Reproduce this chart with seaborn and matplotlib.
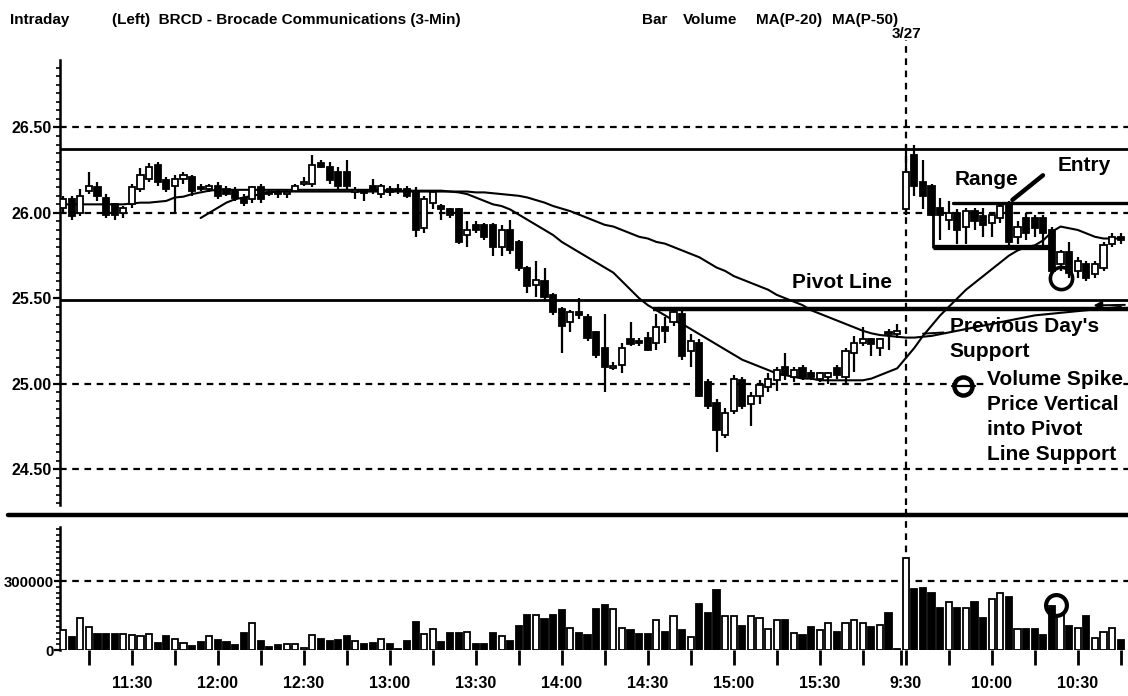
import numpy as np
import pandas as pd
import seaborn as sns
import matplotlib
matplotlib.use("Agg")
import matplotlib.pyplot as plt
from matplotlib.lines import Line2D

# ---------------- data ----------------
# 3-minute bars: day 1 from 11:06 to 15:57, day 2 from 9:30 to 10:39
opens = [26.03, 26.08, 26.00, 26.13, 26.15, 26.09, 26.05, 26.00, 26.05, 26.14,
         26.20, 26.28, 26.19, 26.16, 26.20, 26.21, 26.15, 26.14, 26.16, 26.14,
         26.13, 26.09, 26.08, 26.15, 26.12, 26.12, 26.11, 26.13, 26.17, 26.17,
         26.29, 26.27, 26.24, 26.24, 26.12, 26.12, 26.16, 26.11, 26.14, 26.14,
         26.14, 26.13, 25.91, 26.06, 26.04, 26.02, 26.02, 25.87, 25.93, 25.93,
         25.93, 25.80, 25.90, 25.83, 25.68, 25.58, 25.60, 25.52, 25.44, 25.36,
         25.42, 25.39, 25.30, 25.21, 25.09, 25.11, 25.26, 25.25, 25.27, 25.24,
         25.33, 25.36, 25.41, 25.19, 25.24, 25.01, 24.89, 24.70, 24.84, 25.02,
         24.88, 24.93, 24.98, 25.02, 25.10, 25.04, 25.09, 25.06, 25.03, 25.04,
         25.09, 25.04, 25.18, 25.24, 25.26, 25.21, 25.30, 25.29,
         26.02, 26.34, 26.18, 26.16, 26.03, 25.96, 26.00, 25.92, 26.01, 25.98,
         25.94, 25.97, 26.05, 25.86, 25.97, 25.97, 25.97, 25.90, 25.70, 25.77,
         25.66, 25.70, 25.64, 25.68, 25.82, 25.86]
highs = [26.10, 26.10, 26.14, 26.24, 26.18, 26.11, 26.06, 26.04, 26.17, 26.26,
         26.29, 26.30, 26.21, 26.22, 26.24, 26.22, 26.17, 26.17, 26.18, 26.16,
         26.15, 26.11, 26.16, 26.17, 26.14, 26.14, 26.14, 26.17, 26.21, 26.34,
         26.31, 26.30, 26.27, 26.31, 26.15, 26.14, 26.20, 26.17, 26.16, 26.17,
         26.16, 26.15, 26.10, 26.13, 26.05, 26.03, 26.03, 25.95, 25.95, 25.94,
         25.94, 25.93, 25.96, 25.84, 25.69, 25.72, 25.68, 25.53, 25.45, 25.43,
         25.50, 25.41, 25.31, 25.41, 25.13, 25.24, 25.36, 25.27, 25.30, 25.41,
         25.39, 25.44, 25.43, 25.29, 25.26, 25.03, 24.91, 24.86, 25.05, 25.04,
         24.95, 25.02, 25.06, 25.10, 25.18, 25.10, 25.11, 25.08, 25.07, 25.07,
         25.11, 25.21, 25.28, 25.33, 25.27, 25.27, 25.32, 25.35,
         26.40, 26.40, 26.31, 26.17, 26.09, 26.07, 26.02, 26.03, 26.03, 26.03,
         26.00, 26.06, 26.07, 25.95, 26.00, 25.99, 25.99, 25.92, 25.78, 25.83,
         25.74, 25.72, 25.72, 25.83, 25.88, 25.88]
lows = [26.00, 25.96, 25.98, 26.11, 26.07, 25.97, 25.96, 25.97, 26.03, 26.12,
        26.18, 26.16, 26.12, 26.00, 26.17, 26.10, 26.13, 26.12, 26.08, 26.10,
        26.07, 26.04, 26.06, 26.06, 26.10, 26.09, 26.09, 26.12, 26.16, 26.15,
        26.26, 26.17, 26.14, 26.14, 26.08, 26.07, 26.11, 26.09, 26.10, 26.11,
        26.09, 25.86, 25.88, 26.02, 25.96, 25.97, 25.82, 25.80, 25.88, 25.84,
        25.75, 25.75, 25.76, 25.66, 25.53, 25.51, 25.49, 25.40, 25.18, 25.30,
        25.38, 25.25, 25.15, 24.95, 25.08, 25.06, 25.22, 25.22, 25.19, 25.20,
        25.24, 25.34, 25.14, 25.10, 24.92, 24.85, 24.60, 24.68, 24.82, 24.85,
        24.75, 24.88, 24.95, 24.96, 25.02, 25.01, 25.02, 25.02, 25.01, 25.00,
        25.03, 25.00, 25.07, 25.22, 25.16, 25.16, 25.20, 25.27,
        25.99, 26.10, 26.02, 25.98, 25.84, 25.90, 25.82, 25.82, 25.90, 25.86,
        25.86, 25.94, 25.81, 25.82, 25.84, 25.86, 25.80, 25.64, 25.66, 25.62,
        25.62, 25.60, 25.62, 25.66, 25.80, 25.82]
closes = [26.08, 25.98, 26.10, 26.16, 26.10, 25.99, 25.99, 26.03, 26.15, 26.22,
          26.27, 26.18, 26.14, 26.20, 26.22, 26.13, 26.14, 26.16, 26.10, 26.11,
          26.09, 26.06, 26.15, 26.08, 26.11, 26.11, 26.12, 26.16, 26.17, 26.28,
          26.27, 26.19, 26.16, 26.16, 26.125, 26.115, 26.13, 26.16, 26.12, 26.13,
          26.10, 25.90, 26.08, 26.12, 26.02, 25.99, 25.83, 25.90, 25.90, 25.86,
          25.80, 25.90, 25.78, 25.68, 25.57, 25.61, 25.51, 25.42, 25.34, 25.42,
          25.40, 25.27, 25.17, 25.10, 25.10, 25.21, 25.23, 25.24, 25.20, 25.33,
          25.31, 25.42, 25.16, 25.25, 24.93, 24.87, 24.73, 24.83, 25.03, 24.87,
          24.93, 24.99, 25.03, 25.08, 25.05, 25.08, 25.04, 25.04, 25.06, 25.06,
          25.05, 25.19, 25.24, 25.26, 25.23, 25.26, 25.29, 25.31,
          26.24, 26.16, 26.10, 25.99, 25.99, 26.00, 25.90, 26.01, 25.95, 25.93,
          25.99, 26.04, 25.83, 25.92, 25.88, 25.91, 25.88, 25.66, 25.77, 25.65,
          25.72, 25.62, 25.70, 25.81, 25.86, 25.84]
volumes = [87000, 57000, 139000, 100000, 70000, 70000, 70000, 70000, 65000, 60000,
           68000, 30000, 60000, 50000, 30000, 18000, 35000, 60000, 45000, 35000,
           20000, 72000, 117000, 40000, 15000, 20000, 25000, 25000, 10000, 65000,
           50000, 40000, 45000, 60000, 40000, 25000, 30000, 50000, 25000, 5000,
           38000, 121000, 69000, 90000, 35000, 72000, 72000, 78000, 25000, 25000,
           72000, 62000, 38000, 105000, 152000, 152000, 134000, 152000, 174000, 94000,
           75000, 65000, 177000, 196000, 177000, 94000, 85000, 68000, 68000, 130000,
           78000, 148000, 87000, 58000, 200000, 160000, 261000, 146000, 146000, 104000,
           146000, 139000, 91000, 130000, 130000, 72000, 67000, 100000, 87000, 117000,
           80000, 117000, 130000, 117000, 100000, 110000, 160000, 5000,
           400000, 265000, 270000, 248000, 183000, 209000, 183000, 183000, 209000, 139000,
           222000, 248000, 230000, 91000, 91000, 91000, 65000, 191000, 152000, 104000,
           95000, 148000, 52000, 78000, 95000, 43000]
ma20 = [26.05, 26.05, 26.05, 26.05, 26.05, 26.05, 26.05, 26.05, 26.055, 26.06,
        26.06, 26.065, 26.07, 26.09, 26.095, 26.11, 26.12, 26.13, 26.135, 26.135,
        26.135, 26.135, 26.135, 26.135, 26.135, 26.135, 26.135, 26.135, 26.135, 26.135,
        26.135, 26.135, 26.135, 26.135, 26.135, 26.135, 26.135, 26.135, 26.13, 26.13,
        26.13, 26.13, 26.13, 26.13, 26.13, 26.125, 26.12, 26.11, 26.09, 26.07,
        26.05, 26.04, 26.02, 25.99, 25.96, 25.93, 25.90, 25.87, 25.83, 25.80,
        25.77, 25.74, 25.71, 25.68, 25.65, 25.60, 25.55, 25.50, 25.46, 25.43,
        25.40, 25.37, 25.35, 25.32, 25.29, 25.26, 25.23, 25.20, 25.17, 25.14,
        25.12, 25.10, 25.08, 25.06, 25.05, 25.04, 25.03, 25.03, 25.02, 25.02,
        25.02, 25.02, 25.02, 25.02, 25.03, 25.05, 25.07, 25.09,
        25.15, 25.21, 25.28, 25.34, 25.40, 25.45, 25.50, 25.55, 25.59, 25.63,
        25.67, 25.71, 25.75, 25.78, 25.80, 25.81, 25.84, 25.89, 25.92, 25.91,
        25.90, 25.88, 25.86, 25.85, 25.85, 25.85]
ma50 = [np.nan] * 16 + [
        25.97, 26.00, 26.03, 26.06, 26.08, 26.09, 26.10, 26.11, 26.12, 26.125,
        26.125, 26.125, 26.125, 26.125, 26.125, 26.125, 26.125, 26.125, 26.125, 26.125,
        26.125, 26.125, 26.125, 26.125, 26.125, 26.125, 26.125, 26.125, 26.125, 26.125,
        26.125, 26.125, 26.12, 26.12, 26.115, 26.11, 26.105, 26.10, 26.09, 26.075,
        26.06, 26.04, 26.025, 26.01, 25.99, 25.97, 25.95, 25.93, 25.92, 25.90,
        25.88, 25.86, 25.85, 25.83, 25.82, 25.80, 25.78, 25.76, 25.74, 25.71,
        25.68, 25.66, 25.63, 25.61, 25.59, 25.57, 25.55, 25.52, 25.50, 25.48,
        25.46, 25.43, 25.41, 25.39, 25.37, 25.35, 25.33, 25.31, 25.295, 25.285,
        25.28, 25.275,
        25.27, 25.27, 25.275, 25.28, 25.29, 25.30, 25.31, 25.32, 25.33, 25.34,
        25.35, 25.36, 25.37, 25.38, 25.39, 25.40, 25.405, 25.41, 25.415, 25.42,
        25.425, 25.43, 25.435, 25.44, 25.445, 25.45]

tick_pos = [3, 8, 13, 18, 23, 28, 33, 38, 43, 48, 53, 58, 63, 68, 73, 78, 83, 88, 93,
            97.4, 98, 103, 108, 113, 118, 123]
label_pos = [8, 18, 28, 38, 48, 58, 68, 78, 88, 98, 108, 118]
label_txt = ["11:30", "12:00", "12:30", "13:00", "13:30", "14:00", "14:30",
             "15:00", "15:30", "9:30", "10:00", "10:30"]
price_ticks = [24.5, 25.0, 25.5, 26.0, 26.5]
price_labels = ["24.50", "25.00", "25.50", "26.00", "26.50"]
vol_ticks = [0, 300000]
vol_labels = ["0", "300000"]

df = pd.DataFrame({"o": opens, "h": highs, "l": lows, "c": closes,
                   "v": volumes, "ma20": ma20, "ma50": ma50})
df["i"] = np.arange(len(df))
up = df["c"] >= df["o"]

# ---------------- style ----------------
sns.set_theme(style="white")
plt.rcParams["font.family"] = ["Liberation Sans", "DejaVu Sans"]
plt.rcParams["font.weight"] = "bold"
INK = "black"
W, H = 1128, 696
fig = plt.figure(figsize=(W / 100, H / 100), dpi=100)
fig.patch.set_facecolor("white")

def fx(px):
    return px / W

def fy(py):
    return 1 - py / H

ax = fig.add_axes([fx(60), fy(505), 1 - fx(60), fy(60) - fy(505)])
axv = fig.add_axes([fx(60), fy(650), 1 - fx(60), fy(527) - fy(650)])
XL = (-0.35, 123.84)
DASH = (0, (3, 2.5))
TICKFS = 11.5

# ---------------- price panel ----------------
ax.set_xlim(*XL)
ax.set_ylim(24.29, 26.895)
for lvl in [26.5, 26.0, 25.0, 24.5]:
    ax.axhline(lvl, color=INK, lw=1.6, ls=DASH, zorder=1)
ax.axhline(26.372, color=INK, lw=2.0, zorder=1)          # upper range line
ax.axhline(25.49, color=INK, lw=2.0, zorder=1)           # pivot line
ax.plot([68.6, XL[1]], [25.44, 25.44], color=INK, lw=3.2, zorder=1, solid_capstyle="butt")

# moving averages
sns.lineplot(data=df, x="i", y="ma20", ax=ax, color=INK, lw=1.5, zorder=2)
sns.lineplot(data=df.dropna(subset=["ma50"]), x="i", y="ma50", ax=ax, color=INK, lw=1.5, zorder=2)

# candles
ax.vlines(df["i"], df["l"], df["h"], color=INK, lw=1.6, zorder=3)
body_lo = np.minimum(df["o"], df["c"])
body_h = np.maximum(np.abs(df["c"] - df["o"]), 0.012)
ax.bar(df["i"], body_h, bottom=body_lo, width=0.72,
       color=np.where(up, "white", INK), edgecolor=INK, linewidth=1.3, zorder=4)

# opening range box
ax.plot([101.2, 115.1], [25.80, 25.80], color=INK, lw=3.8, zorder=5, solid_capstyle="butt")
ax.plot([101.2, 101.2], [25.80, 26.0], color=INK, lw=2.0, zorder=5)
ax.plot([103.5, XL[1]], [26.057, 26.057], color=INK, lw=2.4, zorder=5)
ax.plot([110.4, 113.95], [26.076, 26.22], color=INK, lw=3.2, zorder=6, solid_capstyle="round")
ax.plot([100.0, 102.4], [25.293, 25.300], color=INK, lw=1.4, zorder=6)
ax.annotate("", xy=(119.5, 25.458), xytext=(123.8, 25.462),
            arrowprops=dict(arrowstyle="-|>", color=INK, lw=1.4, mutation_scale=12), zorder=6)

# circles
ax.plot([116.0], [25.62], marker="o", ms=16, mfc="none", mec=INK, mew=2.6, zorder=7)
ax.plot([104.7], [24.985], marker="o", ms=13, mfc="white", mec=INK, mew=3.2, zorder=7)
ax.plot([103.4, 106.0], [24.985, 24.985], color=INK, lw=1.6, zorder=7)

# annotation text
note = dict(fontsize=15, fontweight="bold", color=INK, zorder=8)
ax.text(84.8, 25.59, "Pivot Line", va="center", ha="left", **note)
ax.text(103.7, 26.193, "Range", va="center", ha="left", **note)
ax.text(115.6, 26.28, "Entry", va="center", ha="left", **note)
ax.text(103.1, 25.333, "Previous Day's", va="center", ha="left", **note)
ax.text(103.1, 25.187, "Support", va="center", ha="left", **note)
for txt, yv in zip(["Volume Spike", "Price Vertical", "into Pivot", "Line Support"],
                   [25.023, 24.877, 24.731, 24.585]):
    ax.text(107.4, yv, txt, va="center", ha="left",
            bbox=dict(facecolor="white", edgecolor="none", pad=0.5), **note)

# day separator
ax.axvline(98, ymin=0, ymax=(505 - 40) / (505 - 60), color=INK, lw=1.6,
           ls=DASH, clip_on=False, zorder=2)

ax.set_yticks(price_ticks)
ax.set_yticklabels(price_labels)
ax.set_yticks(np.arange(24.3, 26.9, 0.05), minor=True)
ax.set_xticks([])
ax.set_xlabel("")
ax.set_ylabel("")
for s in ["top", "right", "bottom"]:
    ax.spines[s].set_visible(False)
ax.spines["left"].set_color(INK)
ax.spines["left"].set_linewidth(1.8)
ax.tick_params(axis="y", which="major", direction="out", length=5, width=1.6,
               color=INK, pad=1, labelsize=TICKFS, labelcolor=INK, left=True)
ax.tick_params(axis="y", which="minor", direction="out", length=3, width=1.2,
               color=INK, left=True)

# ---------------- volume panel ----------------
axv.set_xlim(*XL)
axv.set_ylim(0, 535000)
axv.axhline(300000, color=INK, lw=1.6, ls=DASH, zorder=1)
axv.bar(df["i"], df["v"], width=0.72, color=np.where(up, "white", INK),
        edgecolor=INK, linewidth=1.3, zorder=3)
axv.axvline(98, ymin=0, ymax=(650 - 505) / (650 - 527), color=INK, lw=1.6,
            ls=DASH, clip_on=False, zorder=2)
axv.plot([115.5], [196000], marker="o", ms=15, mfc="none", mec=INK, mew=3.0, zorder=6)

axv.set_yticks(vol_ticks)
axv.set_yticklabels(vol_labels)
axv.set_yticks(np.arange(0, 535000, 25000), minor=True)
axv.set_xticks(tick_pos)
axv.set_xticklabels([""] * len(tick_pos))
axv.set_xlabel("")
axv.set_ylabel("")
for s in ["top", "right", "bottom"]:
    axv.spines[s].set_visible(False)
axv.spines["left"].set_color(INK)
axv.spines["left"].set_linewidth(1.8)
axv.tick_params(axis="y", which="major", direction="out", length=4, width=1.6,
                color=INK, pad=0.5, labelsize=10.8, labelcolor=INK, left=True)
axv.tick_params(axis="y", which="minor", direction="out", length=3, width=1.2,
                color=INK, left=True)
axv.tick_params(axis="x", which="major", direction="out", length=11, width=2.0,
                color=INK, bottom=True)
for p, t in zip(label_pos, label_txt):
    axv.text(p, -0.27, t, transform=axv.get_xaxis_transform(), ha="center", va="center",
             fontsize=TICKFS, fontweight="bold", color=INK)

# thick divider between panels
fig.add_artist(Line2D([fx(8), 1.0], [fy(515), fy(515)], color=INK, lw=3.2))

# ---------------- header ----------------
hdr = dict(fontsize=11, fontweight="bold", color=INK, va="center", ha="left")
fig.text(fx(10), fy(20), "Intraday", **hdr)
fig.text(fx(112), fy(20), "(Left)  BRCD - Brocade Communications (3-Min)", **hdr)
fig.text(fx(642), fy(20), "Bar", **hdr)
fig.text(fx(683), fy(20), "Volume", **hdr)
fig.text(fx(756), fy(20), "MA(P-20)", **hdr)
fig.text(fx(832), fy(20), "MA(P-50)", **hdr)
fig.text(fx(907), fy(34), "3/27", fontsize=11, fontweight="bold", color=INK,
         va="center", ha="center")

fig.savefig("out.png", dpi=100, facecolor="white")
